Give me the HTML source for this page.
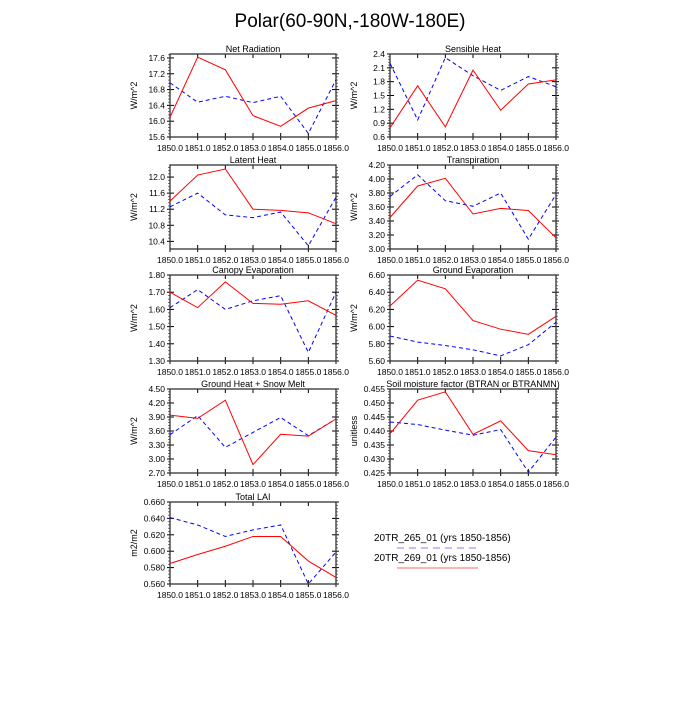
<!DOCTYPE html>
<html><head><meta charset="utf-8">
<style>
body{margin:0;background:#fff;}
svg text{font-family:"Liberation Sans",sans-serif;fill:#000;}
</style></head>
<body>
<svg id="chart" width="700" height="700" viewBox="0 0 700 700" xmlns="http://www.w3.org/2000/svg">
<rect width="700" height="700" fill="#fff"/>
<text x="350" y="27" font-size="19" text-anchor="middle">Polar(60-90N,-180W-180E)</text>
<g id="panels"></g>
<g>
<text x="374" y="541" font-size="10">20TR_265_01 (yrs 1850-1856)</text>
<line x1="397" y1="548" x2="478" y2="548" stroke="#99f" stroke-width="1.2" stroke-dasharray="7,5"/>
<text x="374" y="561" font-size="10">20TR_269_01 (yrs 1850-1856)</text>
<line x1="397" y1="568" x2="478" y2="568" stroke="#f88" stroke-width="1.2"/>
</g>
</svg>
<script>
const years = [1850,1851,1852,1853,1854,1855,1856];
const xTickLabels = ["1850.0","1851.0","1852.0","1853.0","1854.0","1855.0","1856.0"];
const titles = ["Net Radiation","Sensible Heat","Latent Heat","Transpiration","Canopy Evaporation","Ground Evaporation","Ground Heat + Snow Melt","Soil moisture factor (BTRAN or BTRANMN)","Total LAI"];
const units = ["W/m^2","W/m^2","W/m^2","W/m^2","W/m^2","W/m^2","W/m^2","unitless","m2/m2"];
const redSeries = [
 [16.1,17.62,17.3,16.14,15.87,16.33,16.52],
 [0.8,1.71,0.82,2.05,1.18,1.75,1.84],
 [11.4,12.05,12.2,11.2,11.17,11.11,10.84],
 [3.45,3.9,4.01,3.5,3.58,3.55,3.16],
 [1.70,1.61,1.76,1.635,1.63,1.65,1.565],
 [6.24,6.54,6.44,6.07,5.97,5.91,6.12],
 [3.94,3.87,4.26,2.88,3.53,3.49,3.86],
 [0.439,0.451,0.454,0.4388,0.4436,0.433,0.4315],
 [0.585,0.596,0.606,0.618,0.618,0.588,0.568]
];
const blueSeries = [
 [16.97,16.48,16.63,16.47,16.63,15.69,17.05],
 [2.2,0.97,2.32,1.93,1.61,1.91,1.69],
 [11.26,11.6,11.06,10.99,11.13,10.29,11.5],
 [3.75,4.06,3.69,3.61,3.8,3.14,3.78],
 [1.61,1.715,1.60,1.65,1.68,1.35,1.70],
 [5.89,5.82,5.78,5.73,5.66,5.79,6.05],
 [3.52,3.93,3.25,3.57,3.89,3.5,3.86],
 [0.4432,0.4423,0.4403,0.4385,0.4405,0.4253,0.4378],
 [0.641,0.632,0.618,0.626,0.632,0.560,0.599]
];
const yRanges = [[15.6,17.7],[0.6,2.4],[10.21,12.3],[3.0,4.2],[1.3,1.8],[5.6,6.6],[2.7,4.5],[0.425,0.455],[0.56,0.66]];
const yTickLabels = [
 ["15.6","16.0","16.4","16.8","17.2","17.6"],
 ["0.6","0.9","1.2","1.5","1.8","2.1","2.4"],
 ["10.4","10.8","11.2","11.6","12.0"],
 ["3.00","3.20","3.40","3.60","3.80","4.00","4.20"],
 ["1.30","1.40","1.50","1.60","1.70","1.80"],
 ["5.60","5.80","6.00","6.20","6.40","6.60"],
 ["2.70","3.00","3.30","3.60","3.90","4.20","4.50"],
 ["0.425","0.430","0.435","0.440","0.445","0.450","0.455"],
 ["0.560","0.580","0.600","0.620","0.640","0.660"]
];
const NS="http://www.w3.org/2000/svg";
const colX=[170,390], rowY=[[54,137],[165,249],[275,361],[389,473],[502,584]];
const root=document.getElementById('panels');
function mk(tag,attrs,parent){const e=document.createElementNS(NS,tag);for(const k in attrs)e.setAttribute(k,attrs[k]);parent.appendChild(e);return e;}
titles.forEach((t,i)=>{
  const x0=colX[i%2], x1=x0+166, y0=rowY[Math.floor(i/2)][0], y1=rowY[Math.floor(i/2)][1];
  const g=mk('g',{},root);
  
  
  const xs=v=>x0+(v-years[0])/(years[6]-years[0])*(x1-x0);
  const [lo,hi]=yRanges[i];
  const ys=v=>y1-(v-lo)/(hi-lo)*(y1-y0);
  const tt=mk('text',{x:(x0+x1)/2,y:y0-2,'font-size':9,'text-anchor':'middle'},g);tt.textContent=t;
  
  
  // x ticks
  years.forEach((yr,k)=>{
    const x=xs(yr);
    mk('line',{x1:x,y1:y1,x2:x,y2:y1-4,stroke:'#000','stroke-width':1},g);
    mk('line',{x1:x,y1:y0,x2:x,y2:y0+4,stroke:'#000','stroke-width':1},g);
    mk('line',{x1:x,y1:y1,x2:x,y2:y1+3,stroke:'#000','stroke-width':1},g);
    const lb=mk('text',{x:x,y:y1+14,'font-size':8.5,'text-anchor':'middle'},g);lb.textContent=xTickLabels[k];
    
    
  });
  // y ticks
  const labs=yTickLabels[i];
  const step=(parseFloat(labs[1])-parseFloat(labs[0]));
  labs.forEach(s=>{
    const v=parseFloat(s), y=ys(v);
    mk('line',{x1:x0-3,y1:y,x2:x0+4,y2:y,stroke:'#000','stroke-width':1},g);
    mk('line',{x1:x1+3,y1:y,x2:x1-4,y2:y,stroke:'#000','stroke-width':1},g);
    const lb=mk('text',{x:x0-5,y:y+3,'font-size':8.5,'text-anchor':'end'},g);lb.textContent=s;
    
    
    for(let m=1;m<5;m++){const mv=v+step*m/5;if(mv>hi)break;const my=ys(mv);
      mk('line',{x1:x0-2,y1:my,x2:x0,y2:my,stroke:'#555','stroke-width':0.8},g);
      mk('line',{x1:x1,y1:my,x2:x1+2,y2:my,stroke:'#555','stroke-width':0.8},g);}
  });
  const yl=mk('text',{x:0,y:0,'font-size':9,'text-anchor':'middle',transform:`translate(${x0-33},${(y0+y1)/2}) rotate(-90)`},g);
  yl.textContent=units[i];
  
  
  const fr=mk('rect',{x:x0,y:y0,width:x1-x0,height:y1-y0,fill:'none',stroke:'#333','stroke-width':1.3},g);
  
  
  const bl=mk('polyline',{points:blueSeries[i].map((v,k)=>xs(years[k])+','+ys(v)).join(' '),fill:'none',stroke:'#00f','stroke-width':1,'stroke-dasharray':'4,3'},g);
  
  
  const rl=mk('polyline',{points:redSeries[i].map((v,k)=>xs(years[k])+','+ys(v)).join(' '),fill:'none',stroke:'#f00','stroke-width':1},g);
  
  
});
</script>
</body></html>
